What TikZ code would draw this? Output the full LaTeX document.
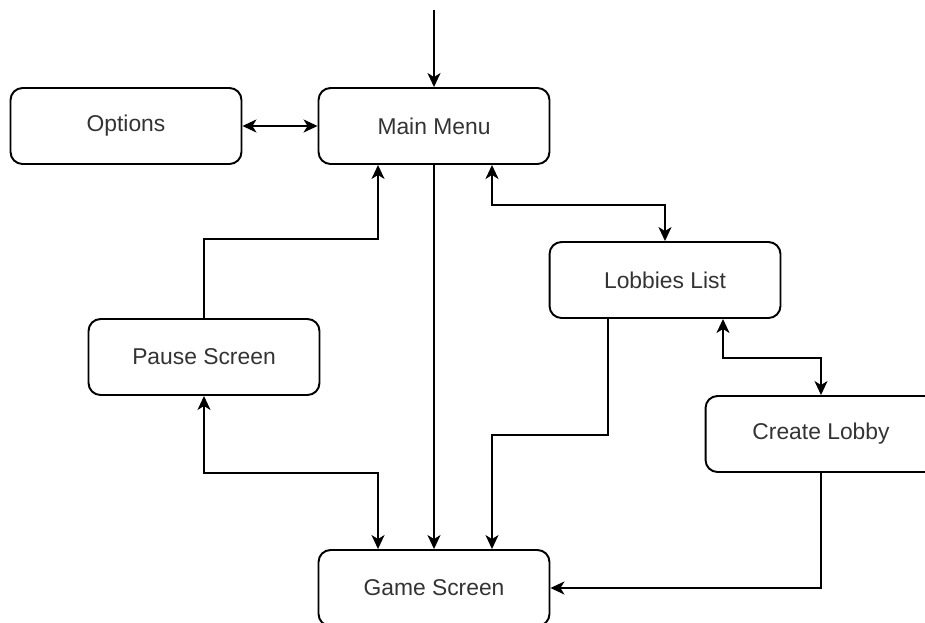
\documentclass[tikz,border=0pt]{standalone}
\usepackage{fontspec}
\setmainfont{Liberation Sans}
\usetikzlibrary{arrows.meta}

\begin{document}
\begin{tikzpicture}[x=0.02cm, y=-0.02cm, line width=1.1pt,
  >={Stealth[length=2.8mm,width=2.6mm,inset=0.8mm]},
  screen/.style={draw, rounded corners=0.24cm, minimum width=4.62cm,
    minimum height=1.52cm, text=black!80, font=\fontsize{13}{15}\selectfont}]
\useasboundingbox (0,0) rectangle (925,622);
\clip (0,0) rectangle (925,622);
% screens
\node [screen] (options) at (126,126) {Options};
\node [screen] (main) at (434,126) {Main Menu};
\node [screen] (lobby) at (665,280) {Lobbies List};
\node [screen] (pause) at (204,357) {Pause Screen};
\node [screen] (create) at (821,434) {Create Lobby};
\node [screen] (game) at (434,588) {Game Screen};
\coordinate (start) at (434,10);
% transitions
\draw [->] (start) -- (main.north);
\draw [<->] (options) -- (main);
\draw [->] (main.south) -- (game.north);
\draw [<->] ([xshift=1.16cm]main.south) -- ++(0,40) -| (lobby.north);
\draw [->] (pause.north) -- ++(0,-79) -| ([xshift=-1.12cm]main.south);
\draw [<->] (pause.south) -- ++(0,77) -| ([xshift=-1.12cm]game.north);
\draw [->] ([xshift=-1.14cm]lobby.south) -- ++(0,116) -| ([xshift=1.16cm]game.north);
\draw [<->] ([xshift=1.16cm]lobby.south) -- ++(0,39) -| (create.north);
\draw [->] (create.south) |- (game.east);
\end{tikzpicture}
\end{document}
